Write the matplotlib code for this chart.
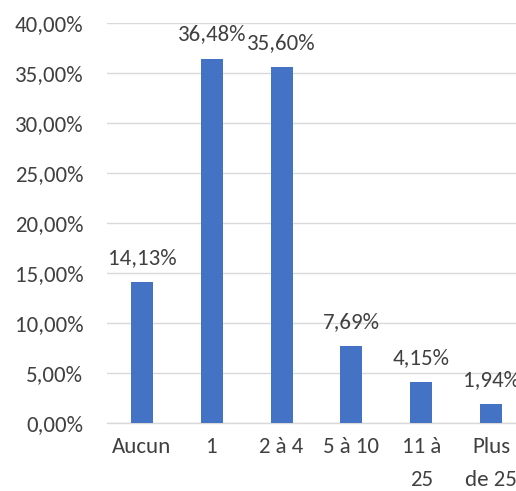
import matplotlib
matplotlib.use("Agg")
import matplotlib.pyplot as plt
from matplotlib.ticker import FuncFormatter

categories = ["Aucun", "1", "2 à 4", "5 à 10", "11 à\n25", "Plus\nde 25"]
values = [14.13, 36.48, 35.60, 7.69, 4.15, 1.94]
yticks = [0, 5, 10, 15, 20, 25, 30, 35, 40]

plt.rcParams['font.family'] = ['Carlito', 'Lato', 'DejaVu Sans']
text_color = '#404040'
fs = 16.5

fig = plt.figure(figsize=(5.16, 4.91), dpi=100)
ax = fig.add_axes([107/516, 67.7/491, 419/516, 400/491])

x = list(range(len(categories)))
ax.bar(x, values, width=0.314, color='#4472C4', zorder=3)
ax.set_xlim(-0.5, len(categories) - 0.5)
ax.set_ylim(0, 40)
ax.set_yticks(yticks)
ax.yaxis.set_major_formatter(FuncFormatter(lambda v, p: f"{v:.2f}".replace('.', ',') + "%"))
ax.grid(axis='y', color='#d9d9d9', linewidth=1.0, zorder=0)
ax.set_xticks(x)
ax.set_xticklabels(categories, linespacing=1.8)
for s in ['top', 'right', 'left']:
    ax.spines[s].set_visible(False)
ax.spines['bottom'].set_color('#d9d9d9')
ax.spines['bottom'].set_linewidth(1.0)
ax.tick_params(axis='both', length=0, labelsize=fs, colors=text_color)
ax.tick_params(axis='y', pad=17)
ax.tick_params(axis='x', pad=10)
for xi, v in zip(x, values):
    ax.annotate(f"{v:.2f}".replace('.', ',') + "%", (xi, v), xytext=(0, 13),
                textcoords='offset points', ha='center', va='baseline',
                fontsize=fs, color=text_color, annotation_clip=False)

fig.savefig("out.png", dpi=100)
